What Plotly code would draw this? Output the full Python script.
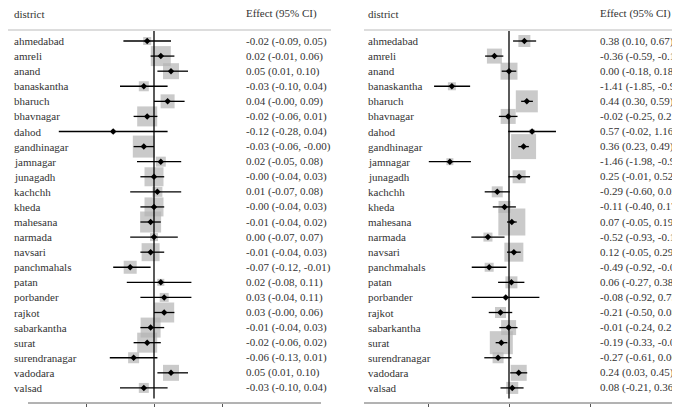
import plotly.graph_objects as go

districts = ["ahmedabad", "amreli", "anand", "banaskantha", "bharuch", "bhavnagar", "dahod",
             "gandhinagar", "jamnagar", "junagadh", "kachchh", "kheda", "mahesana", "narmada",
             "navsari", "panchmahals", "patan", "porbander", "rajkot", "sabarkantha", "surat",
             "surendranagar", "vadodara", "valsad"]

left_est = [-0.02, 0.02, 0.05, -0.03, 0.04, -0.02, -0.12, -0.03, 0.02, -0.00, 0.01, -0.00,
            -0.01, 0.00, -0.01, -0.07, 0.02, 0.03, 0.03, -0.01, -0.02, -0.06, 0.05, -0.03]
left_lo = [-0.09, -0.01, 0.01, -0.10, -0.00, -0.06, -0.28, -0.06, -0.05, -0.04, -0.07, -0.04,
           -0.04, -0.07, -0.04, -0.12, -0.08, -0.04, -0.00, -0.04, -0.06, -0.13, 0.01, -0.10]
left_hi = [0.05, 0.06, 0.10, 0.04, 0.09, 0.01, 0.04, -0.00, 0.08, 0.03, 0.08, 0.03,
           0.02, 0.07, 0.03, -0.01, 0.11, 0.11, 0.06, 0.03, 0.02, 0.01, 0.10, 0.04]
left_w = [8, 20, 16, 10, 14, 20, 4, 22, 10, 19, 10, 19, 21, 8, 18, 13, 7, 9, 20, 20, 20, 11, 16, 10]

right_est = [0.38, -0.36, 0.00, -1.41, 0.44, -0.02, 0.57, 0.36, -1.46, 0.25, -0.29, -0.11,
             0.07, -0.52, 0.12, -0.49, 0.06, -0.08, -0.21, -0.01, -0.19, -0.27, 0.24, 0.08]
right_lo = [0.10, -0.59, -0.18, -1.85, 0.30, -0.25, -0.02, 0.23, -1.98, -0.01, -0.60, -0.40,
            -0.05, -0.93, -0.05, -0.92, -0.27, -0.92, -0.50, -0.24, -0.33, -0.61, 0.03, -0.21]
right_hi = [0.67, -0.14, 0.18, -0.96, 0.59, 0.21, 1.16, 0.49, -0.94, 0.52, 0.02, 0.17,
            0.19, -0.11, 0.29, -0.06, 0.38, 0.75, 0.08, 0.21, -0.04, 0.06, 0.45, 0.36]
right_w = [12, 15, 17, 8, 22, 15, 5, 25, 7, 13, 11, 12, 27, 9, 19, 9, 12, 3, 11, 15, 23, 11, 16, 12]

left_ticks = [-0.2, 0.0, 0.2]
right_ticks = [-2.0, 0.0, 2.0]

W, H = 680, 412
TOP, BOTTOM = 22, 17
PH = H - TOP - BOTTOM
FONT = "Liberation Serif, Times New Roman, DejaVu Serif, serif"
TXT = "#333333"
rows = list(range(len(districts)))

fig = go.Figure()

def panel(est, lo, hi, w, xa, ya):
    fig.add_trace(go.Scatter(x=est, y=rows, mode="markers", xaxis=xa, yaxis=ya,
                             marker=dict(symbol="square", size=w, color="#b3b3b3", line=dict(width=0)),
                             hoverinfo="skip", showlegend=False))
    fig.add_trace(go.Scatter(x=est, y=rows, mode="markers", xaxis=xa, yaxis=ya,
                             error_x=dict(type="data", symmetric=False,
                                          array=[h - e for h, e in zip(hi, est)],
                                          arrayminus=[e - l for e, l in zip(est, lo)],
                                          color="black", thickness=1.3, width=0),
                             marker=dict(symbol="diamond", size=5, color="black"),
                             showlegend=False))

panel(left_est, left_lo, left_hi, left_w, "x", "y")
panel(right_est, right_lo, right_hi, right_w, "x2", "y2")

# zero line at px 146 (left) / 501 (right)
lrange = [-146 / 340, 194 / 340]
rrange = [-161 / 40.5, 179 / 40.5]
yr = [len(districts) - 1 + 1.0, -0.73]

fig.update_layout(
    width=W, height=H, margin=dict(l=0, r=0, t=TOP, b=BOTTOM, autoexpand=False),
    plot_bgcolor="white", paper_bgcolor="white",
    font=dict(family=FONT, size=11, color=TXT),
    xaxis=dict(domain=[0, 0.5], range=lrange, showgrid=False, zeroline=False, automargin=False,
               tickvals=left_ticks, ticktext=["%.2f" % t for t in left_ticks],
               ticks="outside", ticklen=3, tickcolor="#555", tickfont=dict(family=FONT, size=10)),
    xaxis2=dict(domain=[0.5, 1], range=rrange, showgrid=False, zeroline=False, automargin=False,
                tickvals=right_ticks, ticktext=["%.2f" % t for t in right_ticks],
                ticks="outside", ticklen=3, tickcolor="#555", tickfont=dict(family=FONT, size=10)),
    yaxis=dict(range=yr, visible=False, automargin=False),
    yaxis2=dict(range=yr, visible=False, anchor="x2", automargin=False),
)

shapes = []
for xa, ya, p0, p1, a0 in [("x", "y", 0, 323, 20), ("x2", "y2", 356, 680, 356)]:
    shapes.append(dict(type="line", xref=xa, yref=ya, x0=0, x1=0, y0=yr[1], y1=yr[0] - 0.3,
                       line=dict(color="black", width=1.3)))
    shapes.append(dict(type="line", xref="paper", yref="paper", x0=p0 / W, x1=p1 / W, y0=1, y1=1,
                       line=dict(color="#dddddd", width=2)))
    shapes.append(dict(type="line", xref="paper", yref="paper", x0=a0 / W, x1=(p1 - 10) / W,
                       y0=0, y1=0, line=dict(color="#666666", width=1)))
fig.update_layout(shapes=shapes)

head_y = (H - BOTTOM - 6) / PH
ann = []
for ya, lx, ex, est, lo, hi in [
        ("y", 4, 236, left_est, left_lo, left_hi),
        ("y2", 358, 590, right_est, right_lo, right_hi)]:
    ann.append(dict(text="district", xref="paper", yref="paper", x=lx / W, y=head_y,
                    xanchor="left", yanchor="middle", showarrow=False))
    ann.append(dict(text="Effect (95% CI)", xref="paper", yref="paper", x=ex / W, y=head_y,
                    xanchor="left", yanchor="middle", showarrow=False))
    for i, d in enumerate(districts):
        ann.append(dict(text=d, xref="paper", yref=ya, x=lx / W, y=i, xanchor="left",
                        yanchor="middle", showarrow=False))
        ann.append(dict(text="%.2f (%.2f, %.2f)" % (est[i], lo[i], hi[i]), xref="paper", yref=ya,
                        x=ex / W, y=i, xanchor="left", yanchor="middle", showarrow=False))
for a in ann:
    a["font"] = dict(family=FONT, size=11, color=TXT)
fig.update_layout(annotations=ann)

fig.write_html("out.html")
